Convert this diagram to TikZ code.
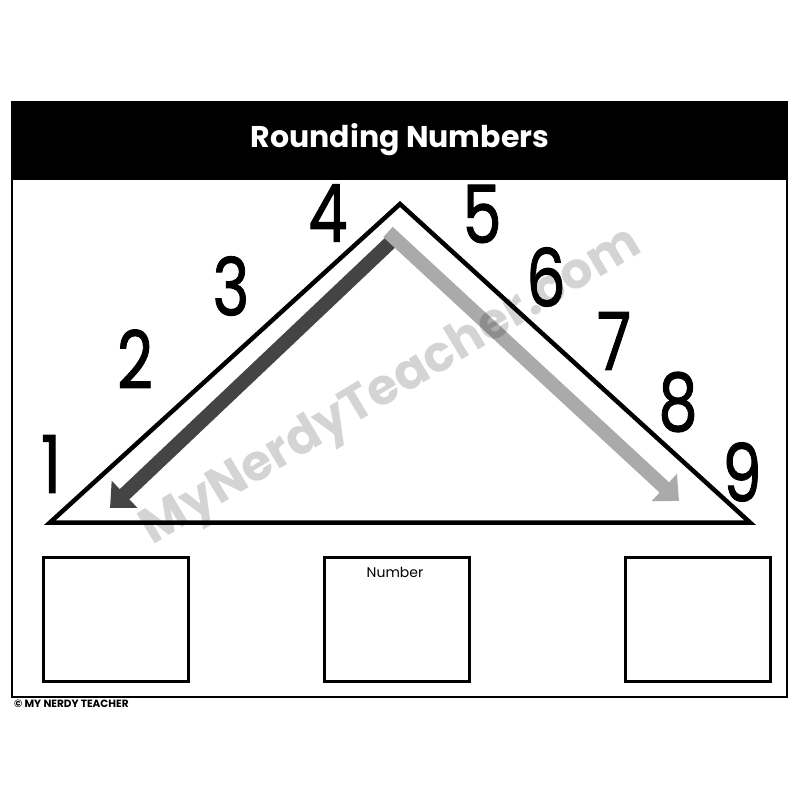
\documentclass[tikz,border=0pt]{standalone}
\usepackage{fontspec}
\setmainfont{Poppins}
\newfontfamily\digitfont{Poppins}[FakeBold=1.3]
\usetikzlibrary{arrows.meta}
\definecolor{darkband}{HTML}{444444}
\definecolor{lightband}{HTML}{AAAAAA}
\begin{document}
\begin{tikzpicture}[x=1pt,y=-1pt,
  digit/.style={inner sep=0pt, font=\digitfont\fontsize{80}{80}\selectfont, xscale=0.78, transform shape},
  answerbox/.style={draw=black, line width=3pt, minimum width=145pt, minimum height=124pt, inner sep=0pt},
  band/.style={line width=14pt, line cap=butt},
  headtip/.style={-{Triangle[length=20pt,width=36pt]}}]
\useasboundingbox (0,0) rectangle (800,800);
\fill[white] (0,0) rectangle (800,800);
% frame and header
\draw[line width=2pt] (12,102) rectangle (787,697);
\fill[black] (12,102) rectangle (787,180);
\node[text=white, font=\fontsize{30}{30}\bfseries] (title) at (400,140) {Rounding Numbers};
% triangle
\draw[line width=4.5pt, line join=miter] (400,204) -- (750,522.5) -- (50,522.5) -- cycle;
% arrows
\coordinate (dstart) at (395,238);
\coordinate (dtip) at (110,508);
\coordinate (gstart) at (388,232);
\coordinate (gtip) at (679,501);
\draw[band, darkband, headtip] (dstart) -- (dtip);
\draw[band, lightband, headtip] (gstart) -- (gtip);
% digits
\node[digit] (d1) at (51,464) {1};
\node[digit] (d2) at (135,359) {2};
\node[digit] (d3) at (231,286) {3};
\node[digit] (d4) at (328,213) {4};
\node[digit] (d5) at (482,214) {5};
\node[digit] (d6) at (546,277) {6};
\node[digit] (d7) at (614,341) {7};
\node[digit] (d8) at (678,402) {8};
\node[digit] (d9) at (742,472) {9};
% watermark
\node[text=black, text opacity=0.17, rotate=31, font=\fontsize{50}{50}\selectfont\bfseries] (wm) at (392,388) {MyNerdyTeacher.com};
% boxes
\node[answerbox, anchor=north west] (boxL) at (42,556) {};
\node[answerbox, anchor=north west] (boxM) at (322.5,556) {};
\node[answerbox, anchor=north west] (boxR) at (624,556) {};
\node[font=\fontsize{14}{14}\selectfont, anchor=north] (numlabel) at (395,564) {Number};
% footer
\node[font=\fontsize{10.5}{10.5}\bfseries, anchor=west, inner sep=0pt] (footer) at (14,703.5) {© MY NERDY TEACHER};
\end{tikzpicture}
\end{document}
